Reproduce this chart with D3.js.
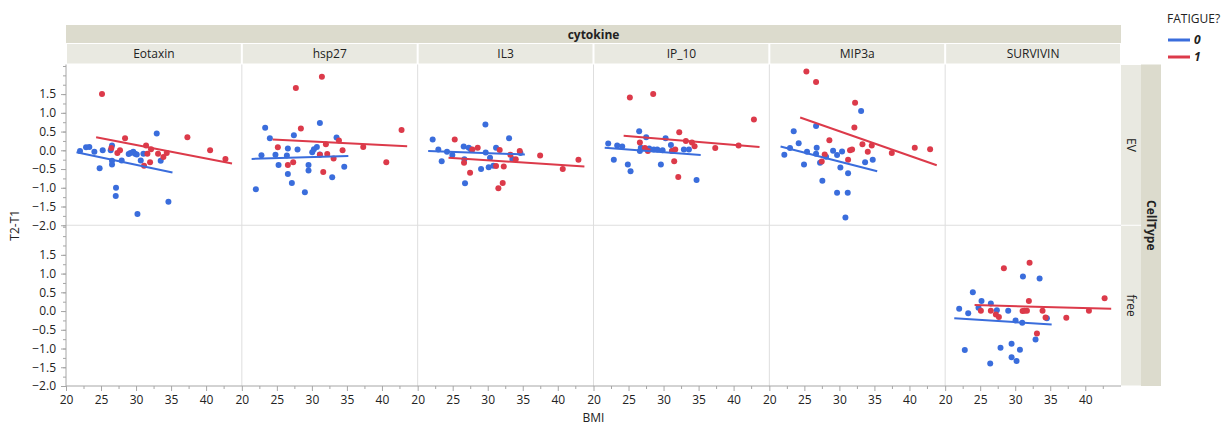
<!DOCTYPE html>
<html lang="en">
<head>
    <meta charset="UTF-8">
    <title>T2-T1 vs BMI by cytokine and cell type</title>
    <script src="https://cdnjs.cloudflare.com/ajax/libs/d3/7.8.5/d3.min.js"></script>
    <style>
        body { margin: 0; background: #fff; }
        svg text { font-family: "Open Sans", "Noto Sans", sans-serif; fill: #222; }
        .strip-dark { fill: #dcdbcd; }
        .strip-light { fill: #e9e9e1; }
        .sep { stroke: #dedede; stroke-width: 1; }
        .axis line, .axis path { stroke: #a6a6a6; }
        .axis text { font-size: 12px; fill: #222; }
    </style>
</head>
<body>
<div id="chart"></div>
<script>
// categories
const cytokines = ["Eotaxin", "hsp27", "IL3", "IP_10", "MIP3a", "SURVIVIN"];
const cellTypes = ["EV", "free"];
const fatigueLevels = ["0", "1"];
const yTickValues = [-2.0, -1.5, -1.0, -0.5, 0.0, 0.5, 1.0, 1.5];
const xTickValues = [20, 25, 30, 35, 40];

// points [BMI, T2-T1]
const eotaxin0 = [[22.0,-0.02],[22.86,0.08],[23.33,0.09],[24.05,-0.04],[24.8,-0.48],[25.24,0.0],[26.38,0.0],[26.57,0.13],[26.57,-0.28],[26.57,-0.38],[27.14,-1.0],[27.1,-1.22],[27.95,-0.27],[28.95,-0.1],[29.2,-0.07],[29.6,-0.04],[29.86,-0.09],[30.1,-0.11],[30.2,-1.70],[30.67,-0.27],[31.05,-0.09],[32.95,0.45],[33.52,-0.28],[34.62,-1.37]];
const eotaxin1 = [[25.14,1.5],[26.48,0.06],[27.33,-0.07],[27.71,0.0],[28.43,0.32],[31.14,-0.41],[31.43,0.125],[31.62,-0.09],[32.0,-0.32],[32.14,0.03],[33.14,-0.09],[33.9,-0.18],[34.38,-0.07],[37.33,0.35],[40.57,0.0],[42.76,-0.23]];

const hsp270 = [[22.0,-1.04],[22.8,-0.13],[23.33,0.6],[24.0,0.32],[24.8,-0.12],[25.24,-0.39],[26.43,-0.14],[26.57,-0.63],[26.57,0.05],[27.14,-0.875],[27.43,0.4],[27.95,0.02],[29.0,-1.12],[29.52,-0.39],[29.52,-0.54],[30.05,-0.05],[30.29,0.03],[30.71,0.09],[31.14,0.73],[31.14,-0.11],[32.9,-0.72],[33.52,0.34],[34.62,-0.44]];
const hsp271 = [[25.14,0.08],[26.57,-0.39],[27.33,-0.32],[27.71,1.66],[28.43,0.58],[31.14,-0.12],[31.43,1.96],[31.62,-0.58],[32.0,0.16],[32.19,-0.10],[33.1,-0.22],[33.86,0.26],[34.38,0.0],[37.33,0.09],[40.62,-0.32],[42.8,0.54]];

const il30 = [[22.14,0.29],[22.95,0.02],[23.43,-0.29],[24.19,-0.04],[24.95,-0.125],[26.57,0.10],[26.67,-0.24],[26.76,-0.88],[27.29,0.07],[27.6,0.02],[29.05,-0.5],[29.67,0.69],[29.71,-0.06],[30.14,-0.455],[30.33,-0.2],[30.81,-0.41],[31.19,0.07],[33.05,0.32],[33.52,-0.23],[34.67,-0.07]];
const il31 = [[25.29,0.29],[26.62,-0.33],[27.48,-0.6],[27.81,0.02],[28.57,0.07],[31.19,-0.42],[31.52,-1.01],[31.71,0.01],[32.14,-0.87],[32.29,-0.43],[33.24,-0.12],[34.0,-0.24],[34.57,-0.02],[37.48,-0.14],[40.71,-0.5],[42.95,-0.25]];

const ip100 = [[22.1,0.18],[22.9,-0.25],[23.38,0.125],[24.1,0.1],[24.9,-0.38],[25.29,-0.56],[26.52,0.51],[26.62,-0.02],[26.76,0.07],[27.52,0.35],[27.95,0.045],[28.6,0.02],[29.1,0.02],[29.62,-0.38],[29.86,0.0],[30.29,0.32],[31.05,0.14],[31.19,-0.02],[32.9,0.02],[33.62,0.02],[34.71,-0.79]];
const ip101 = [[25.19,1.41],[26.62,0.21],[27.33,0.06],[27.76,-0.02],[28.52,1.5],[31.24,-0.02],[31.52,-0.29],[31.67,0.02],[32.1,-0.71],[32.24,0.48],[33.19,0.25],[34.05,0.21],[34.43,0.11],[37.38,0.06],[40.71,0.125],[42.9,0.82]];

const mip3a0 = [[22.14,-0.12],[22.95,0.06],[23.48,0.51],[24.19,0.19],[24.95,-0.38],[25.38,-0.04],[26.67,0.65],[26.76,0.07],[26.67,-0.09],[27.24,-0.33],[27.57,-0.81],[28.1,-0.17],[29.1,-0.01],[29.67,-0.125],[29.67,-1.13],[30.14,-0.46],[30.38,-0.03],[30.86,-1.79],[31.24,-0.61],[31.19,-1.13],[33.1,1.05],[33.67,-0.32],[34.76,-0.25]];
const mip3a1 = [[25.29,2.1],[26.67,1.82],[27.48,-0.3],[27.9,-0.11],[28.57,0.27],[31.24,-0.25],[31.52,0.0],[31.81,0.02],[32.14,0.61],[32.24,1.27],[33.29,0.16],[34.05,-0.04],[34.62,0.13],[37.48,-0.07],[40.76,0.07],[42.95,0.03]];

const survivin0 = [[22.0,0.06],[22.8,-1.04],[23.29,-0.06],[23.95,0.5],[24.76,0.09],[25.19,0.27],[26.43,-1.40],[26.52,0.2],[27.38,0.02],[27.9,-0.98],[29.0,0.01],[29.48,-0.87],[29.48,-1.23],[30.05,-0.25],[30.19,-1.33],[30.67,-1.03],[31.0,-0.31],[31.1,0.92],[32.9,-0.76],[33.48,0.87],[34.52,-0.19]];
const survivin1 = [[25.1,0.01],[26.52,0.01],[27.24,-0.09],[27.67,-0.16],[28.38,1.14],[31.05,0.0],[31.33,0.01],[31.67,0.01],[31.95,0.27],[32.05,1.29],[33.1,-0.6],[33.9,0.01],[34.33,-0.17],[37.29,-0.18],[40.52,0.01],[42.76,0.34]];

// fitted lines [x start, y start, x end, y end] for fatigue 0 and 1
const fitEotaxin = [[21.5,-0.05,35.2,-0.59],[24.3,0.35,43.7,-0.35]];
const fitHsp27 = [[21.4,-0.23,35.2,-0.15],[24.4,0.29,43.6,0.11]];
const fitIl3 = [[21.5,-0.02,35.3,-0.11],[24.4,-0.2,43.8,-0.43]];
const fitIp10 = [[21.6,0.07,35.3,-0.125],[24.3,0.39,43.7,0.09]];
const fitMip3a = [[21.6,0.1,35.4,-0.56],[24.4,0.875,43.9,-0.40]];
const fitSurvivin = [[21.3,-0.19,35.2,-0.36],[24.2,0.16,43.7,0.06]];

const panels = [
    { cytokine: "Eotaxin", cell: "EV", groups: [eotaxin0, eotaxin1], fits: fitEotaxin },
    { cytokine: "hsp27", cell: "EV", groups: [hsp270, hsp271], fits: fitHsp27 },
    { cytokine: "IL3", cell: "EV", groups: [il30, il31], fits: fitIl3 },
    { cytokine: "IP_10", cell: "EV", groups: [ip100, ip101], fits: fitIp10 },
    { cytokine: "MIP3a", cell: "EV", groups: [mip3a0, mip3a1], fits: fitMip3a },
    { cytokine: "SURVIVIN", cell: "free", groups: [survivin0, survivin1], fits: fitSurvivin }
];

const colors = ["#3a6ddc", "#dc3a4a"];

const width = 1230, height = 427;
const plotLeft = 66, plotRight = 1121;
const stripTop = 25, labelTop = 44, plotTop = 64.5, plotBottom = 386;

const svg = d3.select("#chart").append("svg")
    .attr("width", width)
    .attr("height", height);

// panel (column) and row bands
const colBand = d3.scaleBand().domain(cytokines).range([plotLeft, plotRight]);
const rowBand = d3.scaleBand().domain(cellTypes).range([plotTop, plotBottom]);

const x = d3.scaleLinear().domain([20, 45.1]).range([0, colBand.bandwidth()]);
const y = d3.scaleLinear().domain([-2.0, 2.29]).range([rowBand.bandwidth(), 0]);

// strips on top
svg.append("rect").attr("class", "strip-dark")
    .attr("x", plotLeft).attr("y", stripTop)
    .attr("width", plotRight - plotLeft).attr("height", labelTop - stripTop - 1);
svg.append("text")
    .attr("x", (plotLeft + plotRight) / 2).attr("y", (stripTop + labelTop) / 2)
    .attr("dy", "0.35em").attr("text-anchor", "middle")
    .style("font-size", "12px").style("font-weight", "bold")
    .text("cytokine");

cytokines.forEach(c => {
    svg.append("rect").attr("class", "strip-light")
        .attr("x", colBand(c) + 1).attr("y", labelTop)
        .attr("width", colBand.bandwidth() - 2).attr("height", plotTop - labelTop - 1);
    svg.append("text")
        .attr("x", colBand(c) + colBand.bandwidth() / 2).attr("y", (labelTop + plotTop) / 2)
        .attr("dy", "0.35em").attr("text-anchor", "middle")
        .style("font-size", "12px")
        .text(c);
});

// strips on the right
cellTypes.forEach(ct => {
    svg.append("rect").attr("class", "strip-light")
        .attr("x", plotRight).attr("y", rowBand(ct) + 0.5)
        .attr("width", 20).attr("height", rowBand.bandwidth() - 1);
    const cy = rowBand(ct) + rowBand.bandwidth() / 2;
    svg.append("text")
        .attr("transform", `translate(${plotRight + 10},${cy}) rotate(90)`)
        .attr("dy", "0.35em").attr("text-anchor", "middle")
        .style("font-size", "12px")
        .text(ct);
});
svg.append("rect").attr("class", "strip-dark")
    .attr("x", plotRight + 20).attr("y", plotTop)
    .attr("width", 20).attr("height", plotBottom - plotTop);
svg.append("text")
    .attr("transform", `translate(${plotRight + 30},${(plotTop + plotBottom) / 2}) rotate(90)`)
    .attr("dy", "0.35em").attr("text-anchor", "middle")
    .style("font-size", "12px").style("font-weight", "bold")
    .text("CellType");

// separators between panels and rows
cytokines.slice(1).forEach(c => {
    svg.append("line").attr("class", "sep")
        .attr("x1", colBand(c)).attr("x2", colBand(c))
        .attr("y1", plotTop).attr("y2", plotBottom);
});
svg.append("line").attr("class", "sep")
    .attr("x1", plotLeft).attr("x2", plotRight)
    .attr("y1", rowBand("free")).attr("y2", rowBand("free"));

// y axes, one per row
const minorY = d3.range(-2.0, 2.3, 0.25);
cellTypes.forEach(ct => {
    const g = svg.append("g").attr("class", "axis")
        .attr("transform", `translate(${plotLeft},${rowBand(ct)})`);
    g.append("g")
        .call(d3.axisLeft(y).tickValues(minorY).tickSize(3).tickFormat(""))
        .call(a => a.select(".domain").remove());
    g.append("g")
        .call(d3.axisLeft(y).tickValues(yTickValues).tickSize(5).tickPadding(5).tickFormat(d3.format(".1f")))
        .call(a => a.select(".domain").remove());
});
svg.append("line")
    .attr("x1", plotLeft).attr("x2", plotLeft)
    .attr("y1", plotTop).attr("y2", plotBottom)
    .attr("stroke", "#a6a6a6");

// x axes, one per panel
const minorX = d3.range(22.5, 45, 5);
cytokines.forEach(c => {
    const g = svg.append("g").attr("class", "axis")
        .attr("transform", `translate(${colBand(c)},${plotBottom})`);
    g.append("g")
        .call(d3.axisBottom(x).tickValues(minorX).tickSize(3).tickFormat(""))
        .call(a => a.select(".domain").remove());
    g.append("g")
        .call(d3.axisBottom(x).tickValues(xTickValues).tickSize(5).tickPadding(4))
        .call(a => a.select(".domain").remove());
});
svg.append("line")
    .attr("x1", plotLeft).attr("x2", plotRight)
    .attr("y1", plotBottom).attr("y2", plotBottom)
    .attr("stroke", "#a6a6a6");

// axis titles
svg.append("text")
    .attr("x", (plotLeft + plotRight) / 2).attr("y", 418)
    .attr("dy", "0.35em").attr("text-anchor", "middle")
    .style("font-size", "12px")
    .text("BMI");
svg.append("text")
    .attr("transform", `translate(15,${rowBand("free")}) rotate(-90)`)
    .attr("dy", "0.35em").attr("text-anchor", "middle")
    .style("font-size", "12px")
    .text("T2-T1");

// points and fit lines
panels.forEach(p => {
    const g = svg.append("g")
        .attr("transform", `translate(${colBand(p.cytokine)},${rowBand(p.cell)})`);
    p.groups.forEach((pts, i) => {
        g.selectAll(null).data(pts).enter().append("circle")
            .attr("cx", d => x(d[0]))
            .attr("cy", d => y(d[1]))
            .attr("r", 3)
            .attr("fill", colors[i]);
    });
    p.fits.forEach((f, i) => {
        g.append("line")
            .attr("x1", x(f[0])).attr("y1", y(f[1]))
            .attr("x2", x(f[2])).attr("y2", y(f[3]))
            .attr("stroke", colors[i])
            .attr("stroke-width", 2);
    });
});

// legend
const legend = svg.append("g").attr("transform", "translate(1167,0)");
legend.append("text").attr("x", 0).attr("y", 19).attr("dy", "0.35em")
    .style("font-size", "12px").text("FATIGUE?");
fatigueLevels.forEach((lv, i) => {
    const ly = 40 + i * 17;
    legend.append("line")
        .attr("x1", 1).attr("x2", 23).attr("y1", ly).attr("y2", ly)
        .attr("stroke", colors[i]).attr("stroke-width", 3);
    legend.append("text").attr("x", 27).attr("y", ly).attr("dy", "0.35em")
        .style("font-size", "12px").style("font-weight", "bold").style("font-style", "italic")
        .text(lv);
});
</script>
</body>
</html>
